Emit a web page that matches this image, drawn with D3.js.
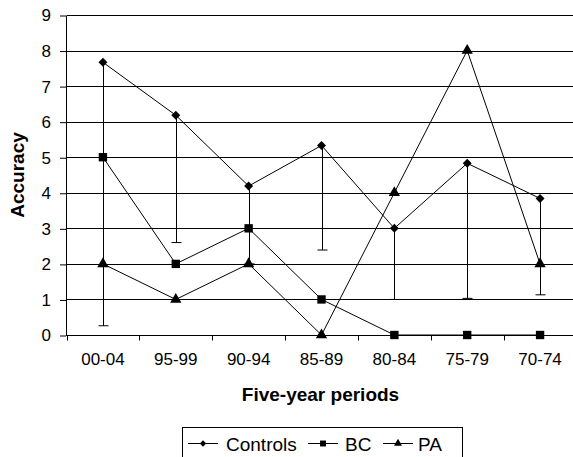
<!DOCTYPE html>
<html>
  <head>
    <meta charset="utf-8">
    <style>
      body { margin: 0; background: #fff; }
      text { font-family: "Liberation Sans", Arial, sans-serif; }
    </style>
  </head>
  <body>
  <div id="viz-wrapper"></div>
  <script src="https://cdnjs.cloudflare.com/ajax/libs/d3/7.8.5/d3.min.js"></script>
  <script>
    // data
    var periods = ['00-04', '95-99', '90-94', '85-89', '80-84', '75-79', '70-74'];
    var controls = [7.67, 6.18, 4.19, 5.33, 3.0, 4.83, 3.84];
    var controlsLow = [0.26, 2.6, 2.0, 2.39, 1.0, 1.03, 1.13];
    var bc = [5, 2, 3, 1, 0, 0, 0];
    var pa = [2, 1, 2, 0, 4, 8, 2];
    var yTicks = [0, 1, 2, 3, 4, 5, 6, 7, 8, 9];

    var width = 573, height = 457;
    var plotLeft = 66.5, plotRight = 576.5, plotTop = 15, plotBottom = 335;

    var svg = d3.select('#viz-wrapper').append('svg')
      .attr('width', width)
      .attr('height', height);

    var x = d3.scalePoint().domain(periods).range([plotLeft, plotRight]).padding(0.5);
    var xb = d3.scaleBand().domain(periods).range([plotLeft, plotRight]);
    var y = d3.scaleLinear().domain([0, 9]).range([plotBottom, plotTop]);

    // diamond shaped like excel's (as wide as tall)
    var excelDiamond = {
      draw: function(ctx, size) {
        var r = Math.sqrt(size / 2);
        ctx.moveTo(0, -r); ctx.lineTo(r, 0); ctx.lineTo(0, r); ctx.lineTo(-r, 0); ctx.closePath();
      }
    };

    // horizontal gridlines
    svg.append('g').selectAll('line')
      .data(yTicks.filter(function(d) { return d > 0; }))
      .enter().append('line')
      .attr('x1', plotLeft).attr('x2', plotRight)
      .attr('y1', function(d) { return Math.round(y(d)) + 0.5; })
      .attr('y2', function(d) { return Math.round(y(d)) + 0.5; })
      .style('stroke', '#000').style('stroke-width', 1);

    // y axis
    var yAxis = svg.append('g')
      .attr('transform', 'translate(' + (plotLeft - 0.5) + ',0.5)')
      .call(d3.axisLeft(y).tickValues(yTicks).tickSize(6).tickSizeOuter(0).tickPadding(9));
    yAxis.selectAll('text').style('font-size', '17px').style('fill', '#000')
      .style('font-family', '"Liberation Sans", Arial, sans-serif');
    yAxis.selectAll('line, .domain').style('stroke', '#000');

    // x axis, ticks between categories
    var xAxis = svg.append('g')
      .attr('transform', 'translate(0,' + (plotBottom + 0.5) + ')');
    xAxis.append('line').attr('x1', plotLeft).attr('x2', plotRight).style('stroke', '#000');
    xAxis.selectAll('.tk').data(periods).enter().append('line')
      .attr('x1', function(d) { return Math.round(xb(d)) + 0.5; })
      .attr('x2', function(d) { return Math.round(xb(d)) + 0.5; })
      .attr('y1', 0).attr('y2', 5).style('stroke', '#000');
    xAxis.selectAll('text').data(periods).enter().append('text')
      .attr('x', function(d) { return x(d); })
      .attr('y', 29)
      .attr('text-anchor', 'middle')
      .style('font-size', '17px')
      .text(function(d) { return d; });

    // axis titles
    svg.append('text')
      .attr('x', (plotLeft + plotRight) / 2 - 1).attr('y', 401)
      .attr('text-anchor', 'middle')
      .style('font-size', '19px').style('font-weight', 'bold')
      .text('Five-year periods');
    svg.append('text')
      .attr('transform', 'translate(24,' + (plotTop + plotBottom) / 2 + ') rotate(-90)')
      .attr('text-anchor', 'middle')
      .style('font-size', '19px').style('font-weight', 'bold')
      .text('Accuracy');

    // error bars for controls
    var eb = svg.append('g');
    periods.forEach(function(p, i) {
      var cx = Math.round(x(p)) + 0.5;
      eb.append('line')
        .attr('x1', cx).attr('x2', cx)
        .attr('y1', y(controls[i])).attr('y2', y(controlsLow[i]))
        .style('stroke', '#000');
      eb.append('line')
        .attr('x1', cx - 5).attr('x2', cx + 5)
        .attr('y1', y(controlsLow[i])).attr('y2', y(controlsLow[i]))
        .style('stroke', '#000');
    });

    var line = d3.line()
      .x(function(d, i) { return x(periods[i]); })
      .y(function(d) { return y(d); });

    var series = [
      { name: 'Controls', values: controls, symbol: excelDiamond, size: 40 },
      { name: 'BC', values: bc, symbol: d3.symbolSquare, size: 70 },
      { name: 'PA', values: pa, symbol: d3.symbolTriangle, size: 56 }
    ];

    series.forEach(function(s) {
      svg.append('path')
        .datum(s.values)
        .attr('d', line)
        .style('fill', 'none')
        .style('stroke', '#000')
        .style('stroke-width', 1);
      svg.append('g').selectAll('path')
        .data(s.values)
        .enter().append('path')
        .attr('transform', function(d, i) { return 'translate(' + x(periods[i]) + ',' + y(d) + ')'; })
        .attr('d', d3.symbol().type(s.symbol).size(s.size))
        .style('fill', '#000');
    });

    // legend
    var lg = svg.append('g');
    lg.append('rect')
      .attr('x', 182.5).attr('y', 427.5)
      .attr('width', 280).attr('height', 60)
      .style('fill', 'none').style('stroke', '#000');
    var items = [
      { s: series[0], lx: 188, tx: 226 },
      { s: series[1], lx: 308, tx: 345 },
      { s: series[2], lx: 383, tx: 418 }
    ];
    items.forEach(function(it) {
      lg.append('line')
        .attr('x1', it.lx).attr('x2', it.lx + 30)
        .attr('y1', 443.5).attr('y2', 443.5)
        .style('stroke', '#000');
      lg.append('path')
        .attr('transform', 'translate(' + (it.lx + 15) + ',443.5)')
        .attr('d', d3.symbol().type(it.s.symbol).size(it.s.size * 0.5))
        .style('fill', '#000');
      lg.append('text')
        .attr('x', it.tx).attr('y', 450.5)
        .style('font-size', '19px')
        .text(it.s.name);
    });
  </script>
  </body>
</html>
